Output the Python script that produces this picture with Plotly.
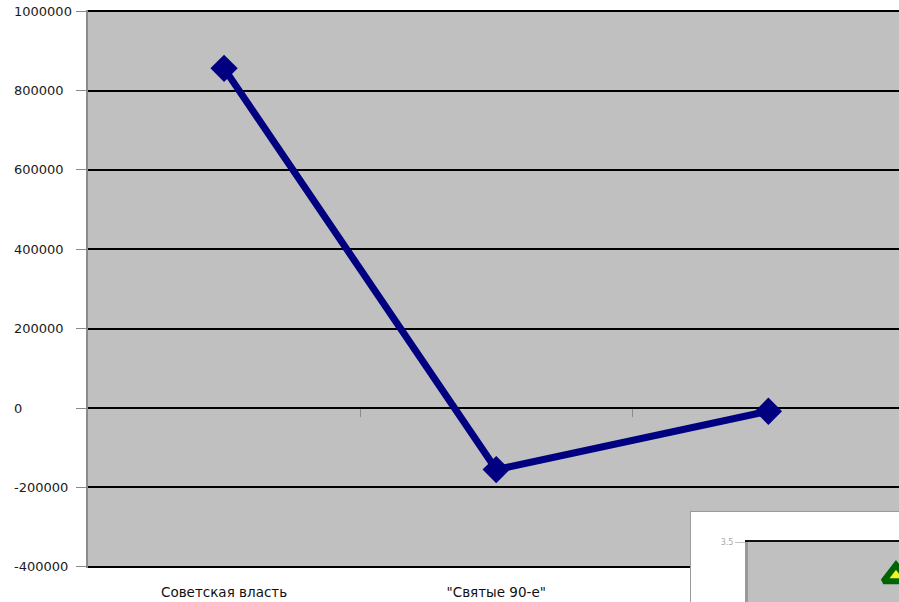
import plotly.graph_objects as go

# ---- data ----
categories = ["Советская власть", "\"Святые 90-е\"", "Наше время"]
values = [856000, -155000, -8000]
y_ticks = [1000000, 800000, 600000, 400000, 200000, 0, -200000, -400000]
y_tick_labels = [str(v) for v in y_ticks]
boundary_ticks = [0.5, 1.5]

inset_x = [0.98]
inset_y = [3.19]
inset_ticks = [3.5]
inset_tick_labels = ["3.5"]

# ---- geometry ----
W, H = 899, 602
ML, MR, MT, MB = 88, 0, 10, 0
PW = W - ML - MR
PH = H - MT - MB

def px_x(px):
    return (px - ML) / PW

def px_y(py):
    return (H - MB - py) / PH

y_range = [-403000, 1003000]
main_y_domain = [px_y(568), 1.0]
x_range = [-0.5, 2.48]

GRAY_BG = "#c0c0c0"
FONT = "DejaVu Sans"

fig = go.Figure()

fig.add_trace(go.Scatter(
    x=categories, y=values, mode="lines+markers",
    line=dict(color="#000080", width=7),
    marker=dict(symbol="diamond", size=21, color="#000080"),
    showlegend=False, hoverinfo="skip", cliponaxis=False,
))

# overlay axis that carries the small boundary ticks on the zero line
fig.add_trace(go.Scatter(x=boundary_ticks, y=[0, 0], xaxis="x4", yaxis="y",
                         mode="none", showlegend=False, hoverinfo="skip"))

# inset triangle
fig.add_trace(go.Scatter(
    x=inset_x, y=inset_y, xaxis="x3", yaxis="y3", mode="markers",
    marker=dict(symbol="triangle-up", size=22, color="#f4f420",
                line=dict(color="#006400", width=6)),
    showlegend=False, hoverinfo="skip", cliponaxis=False,
))

zero_pos = main_y_domain[0] + (0 - y_range[0]) / (y_range[1] - y_range[0]) * (main_y_domain[1] - main_y_domain[0])

annotations = []
for v, t in zip(y_ticks, y_tick_labels):
    annotations.append(dict(
        x=px_x(12), xref="paper", y=v, yref="y", text=t, showarrow=False,
        xanchor="left", yanchor="middle",
        font=dict(family=FONT, size=13, color="#1a1a1a"),
    ))

fig.update_layout(
    width=W, height=H,
    margin=dict(l=ML, r=MR, t=MT, b=MB, pad=0),
    paper_bgcolor="white", plot_bgcolor=GRAY_BG,
    showlegend=False,
    xaxis=dict(
        type="category", categoryorder="array", categoryarray=categories,
        range=x_range, domain=[0, 1], anchor="y",
        showgrid=False, zeroline=False, showline=False, ticks="",
        ticklabelstandoff=14,
        tickfont=dict(family=FONT, size=13.5, color="#111111"),
    ),
    yaxis=dict(
        domain=main_y_domain, range=y_range, anchor="x",
        tickvals=y_ticks, showticklabels=False,
        showgrid=True, gridcolor="black", gridwidth=2,
        zeroline=False, showline=True, linecolor="#8a8a8a", linewidth=2,
        ticks="outside", ticklen=10, tickcolor="#8a8a8a", tickwidth=1,
    ),
    xaxis4=dict(
        overlaying="x", anchor="free", position=zero_pos, side="bottom",
        type="linear", range=x_range, tickvals=boundary_ticks,
        showticklabels=False, ticks="outside", ticklen=8,
        tickcolor="#8a8a8a", tickwidth=1,
        showgrid=False, zeroline=False, showline=False,
    ),
    # inset frame subplot
    xaxis2=dict(domain=[px_x(690), 1.0], anchor="y2", range=[0, 1], visible=False),
    yaxis2=dict(domain=[0, px_y(511)], anchor="x2", range=[0, 1], visible=False),
    # inset inner plot
    xaxis3=dict(domain=[px_x(748), 1.0], anchor="y3", range=[0, 1], side="top",
                showline=True, linecolor="#111111", linewidth=2,
                showticklabels=False, ticks="", showgrid=False, zeroline=False),
    yaxis3=dict(domain=[0, px_y(542)], anchor="x3", range=[2.95, 3.5],
                tickvals=inset_ticks, ticktext=inset_tick_labels,
                ticks="outside", ticklen=10, tickcolor="#c0c0c0",
                tickfont=dict(family=FONT, size=8, color="#a8a8a8"),
                showline=True, linecolor="#999999", linewidth=3,
                showgrid=False, zeroline=False),
    shapes=[
        dict(type="rect", xref="x2", yref="y2", x0=0, x1=1.05, y0=-0.05, y1=1,
             fillcolor="white", line=dict(color="#9a9a9a", width=2), layer="below"),
    ],
    annotations=annotations,
)

fig.write_html(
    "out.html",
    config={"displayModeBar": False},
    post_script="document.body.style.margin='0px';document.body.style.overflow='hidden';",
)
